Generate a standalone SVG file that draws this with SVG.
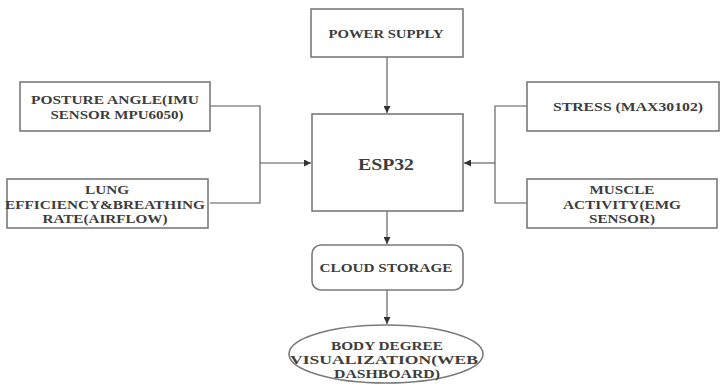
<svg xmlns="http://www.w3.org/2000/svg" width="720" height="385" viewBox="0 0 720 385">
<defs>
<marker id="ah" viewBox="0 0 10 10" refX="10" refY="5" markerWidth="7" markerHeight="7" markerUnits="userSpaceOnUse" orient="auto">
<path d="M0,0 L10,5 L0,10 z" fill="#333"/>
</marker>
<style>
.box{fill:#fff;stroke:#7a7a7a;stroke-width:1.6}
.t{font-family:"Liberation Serif","Times New Roman",serif;font-weight:bold;font-size:13px;fill:#3d3d3d;text-anchor:middle}
.big{font-size:16px}
.ln{fill:none;stroke:#555;stroke-width:1.1}
</style>
</defs>
<rect width="720" height="385" fill="#fff"/>
<g id="connectors">
<path class="ln" d="M387,57 V113" marker-end="url(#ah)"/>
<path class="ln" d="M210,106 H260 V203 H210"/>
<path class="ln" d="M260,163 H311" marker-end="url(#ah)"/>
<path class="ln" d="M527,106 H495 V203 H527"/>
<path class="ln" d="M495,163 H464" marker-end="url(#ah)"/>
<path class="ln" d="M387,211 V244" marker-end="url(#ah)"/>
<path class="ln" d="M387,290 V324" marker-end="url(#ah)"/>
</g>
<g id="power">
<rect class="box" x="311" y="9" width="152" height="48"/>
<text class="t" x="386" y="38" textLength="115" lengthAdjust="spacingAndGlyphs">POWER SUPPLY</text>
</g>
<g id="esp32">
<rect class="box" x="312" y="114" width="151" height="97"/>
<text class="t big" x="386" y="170" textLength="56" lengthAdjust="spacingAndGlyphs">ESP32</text>
</g>
<g id="posture">
<rect class="box" x="20" y="82" width="190" height="49"/>
<text class="t" x="115" y="104" textLength="168" lengthAdjust="spacingAndGlyphs">POSTURE ANGLE(IMU</text>
<text class="t" x="117" y="119" textLength="133" lengthAdjust="spacingAndGlyphs">SENSOR MPU6050)</text>
</g>
<g id="lung">
<rect class="box" x="7" y="179" width="201" height="49"/>
<text class="t" x="107" y="194" textLength="44" lengthAdjust="spacingAndGlyphs">LUNG</text>
<text class="t" x="105" y="209" textLength="200" lengthAdjust="spacingAndGlyphs">EFFICIENCY&amp;BREATHING</text>
<text class="t" x="105" y="223" textLength="125" lengthAdjust="spacingAndGlyphs">RATE(AIRFLOW)</text>
</g>
<g id="stress">
<rect class="box" x="527" y="82" width="192" height="49"/>
<text class="t" x="628" y="111" textLength="150" lengthAdjust="spacingAndGlyphs">STRESS (MAX30102)</text>
</g>
<g id="muscle">
<rect class="box" x="527" y="179" width="190" height="49"/>
<text class="t" x="622" y="194" textLength="65" lengthAdjust="spacingAndGlyphs">MUSCLE</text>
<text class="t" x="622" y="209" textLength="118" lengthAdjust="spacingAndGlyphs">ACTIVITY(EMG</text>
<text class="t" x="622" y="223" textLength="66" lengthAdjust="spacingAndGlyphs">SENSOR)</text>
</g>
<g id="cloud">
<rect class="box" x="312" y="245" width="151" height="45" rx="9"/>
<text class="t" x="386" y="272" textLength="133" lengthAdjust="spacingAndGlyphs">CLOUD STORAGE</text>
</g>
<g id="dashboard">
<ellipse class="box" cx="386" cy="354" rx="97" ry="29"/>
<text class="t" x="387" y="350" textLength="112" lengthAdjust="spacingAndGlyphs">BODY DEGREE</text>
<text class="t" x="384" y="364" textLength="188" lengthAdjust="spacingAndGlyphs">VISUALIZATION(WEB</text>
<text class="t" x="387" y="378" textLength="106" lengthAdjust="spacingAndGlyphs">DASHBOARD)</text>
</g>
</svg>
